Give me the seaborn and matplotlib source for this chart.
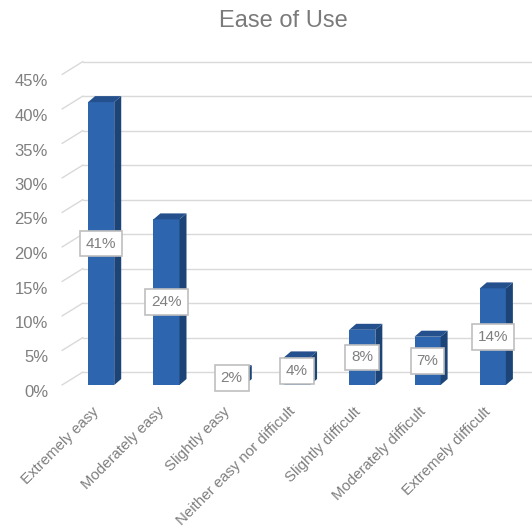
import matplotlib
matplotlib.use("Agg")
import matplotlib.pyplot as plt
import matplotlib.transforms as mtransforms
import seaborn as sns
import pandas as pd
from matplotlib.patches import Polygon

categories = ["Extremely easy", "Moderately easy", "Slightly easy",
              "Neither easy nor difficult", "Slightly difficult",
              "Moderately difficult", "Extremely difficult"]
values = [41, 24, 2, 4, 8, 7, 14]
yticks = [0, 5, 10, 15, 20, 25, 30, 35, 40, 45]
title = "Ease of Use"

FRONT = "#2E65AF"
SIDE = "#1D4476"
TOP = "#24518E"
GRID = "#D9D9D9"
TXT = "#7F7F7F"

sns.set_theme(style="white")
plt.rcParams['font.family'] = ['Liberation Sans', 'DejaVu Sans']

fig = plt.figure(figsize=(5.32, 5.32), dpi=100)
ax = fig.add_axes([62/532, 1-385/532, 1-62/532, (385-74.5)/532])

df = pd.DataFrame({"cat": categories, "val": values})
sns.barplot(data=df, x="cat", y="val", color=FRONT, width=0.4, saturation=1,
            ax=ax, zorder=3, edgecolor="none")
ax.set_xlim(-0.6, 6.6)
ax.set_ylim(0, 45)

# pixel -> data conversions for the pseudo-3D depth
p0 = ax.transData.transform((0, 0))
p1 = ax.transData.transform((1, 1))
px_x = p1[0] - p0[0]
px_y = p1[1] - p0[1]
bdx, bdy = 7 / px_x, 6 / px_y        # bar depth
gdx, gdy = 21 / px_x, 13 / px_y      # back wall offset

# back-wall gridlines and diagonals
x_left = -0.6
for t in yticks:
    ax.plot([x_left + gdx, 6.6 + 1], [t + gdy, t + gdy], color=GRID, lw=1,
            zorder=0, clip_on=False)
    ax.plot([x_left, x_left + gdx], [t, t + gdy], color=GRID, lw=1,
            zorder=0, clip_on=False)

# 3D faces
for patch in ax.patches[:len(values)]:
    x0 = patch.get_x()
    w = patch.get_width()
    h = patch.get_height()
    x1 = x0 + w
    side = Polygon([(x1, 0), (x1 + bdx, bdy), (x1 + bdx, h + bdy), (x1, h)],
                   closed=True, facecolor=SIDE, edgecolor="none", zorder=3)
    top = Polygon([(x0, h), (x0 + bdx, h + bdy), (x1 + bdx, h + bdy), (x1, h)],
                  closed=True, facecolor=TOP, edgecolor="none", zorder=3)
    ax.add_patch(side)
    ax.add_patch(top)
    ax.text(x0 + w / 2, h / 2, f"{h:.0f}%", ha="center", va="center",
            fontsize=11, color=TXT, zorder=5,
            bbox=dict(boxstyle="square,pad=0.38", facecolor="white",
                      edgecolor="#BFBFBF", linewidth=1.2))

ax.set_yticks(yticks)
ax.set_yticklabels([f"{t}%" for t in yticks], fontsize=12, color=TXT)
ax.tick_params(axis="y", length=0, pad=10)
for lab in ax.get_yticklabels():
    lab.set_va("top")
ax.set_xticks(range(len(categories)))
ax.set_xticklabels(categories, rotation=45, ha="right", rotation_mode="anchor",
                   fontsize=10.8, color=TXT)
ax.tick_params(axis="x", length=0, pad=14)
shift = mtransforms.ScaledTranslation(-9/100, 0, fig.dpi_scale_trans)
for lab in ax.get_xticklabels():
    lab.set_transform(lab.get_transform() + shift)
ax.set_xlabel("")
ax.set_ylabel("")
for s in ax.spines.values():
    s.set_visible(False)
ax.set_facecolor("none")

fig.text(283/532, 1-21/532, title, ha="center", va="center", fontsize=17,
         color="#7A7A7A")

fig.savefig("out.png", dpi=100)
